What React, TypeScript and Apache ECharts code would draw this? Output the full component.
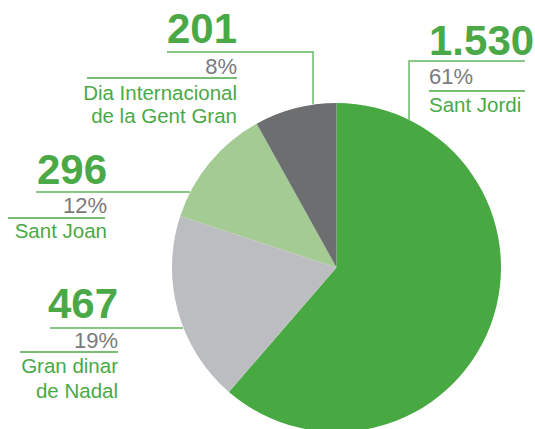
import React, { useEffect, useRef } from "react";
import * as echarts from "echarts";

const names = ["Sant Jordi", "Gran dinar de Nadal", "Sant Joan", "Dia Internacional de la Gent Gran"];
const nameLines = [["Sant Jordi"], ["Gran dinar", "de Nadal"], ["Sant Joan"], ["Dia Internacional", "de la Gent Gran"]];
const values = [1530, 467, 296, 201];
const percents = ["61%", "19%", "12%", "8%"];
const colors = ["#48a942", "#bcbdc0", "#a3cb93", "#6d6e70"];

const GREEN = "#4aa946";
const LEAD = "#62b55d";
const GREY_TXT = "#7b7b7b";
const FONT = "'Liberation Sans', Arial, sans-serif";

const fmt = (v: number) => String(v).replace(/\B(?=(\d{3})+(?!\d))/g, ".");

// label layout: anchor x, alignment, y of number, pct, names (centers), lines
const layout = [
  {
    x: 429, align: "left", numY: 40, pctY: 76, nameY: [104],
    leader: [[525, 61], [409, 61], [409, 120]], under: [[429, 91], [525, 91]],
  },
  {
    x: 118, align: "right", numY: 303, pctY: 340, nameY: [365, 390],
    leader: [[50, 328], [183, 328]], under: [[20, 352], [118, 352]],
  },
  {
    x: 107, align: "right", numY: 169, pctY: 205, nameY: [230],
    leader: [[36, 192], [190, 192]], under: [[8, 218], [105, 218]],
  },
  {
    x: 237, align: "right", numY: 28.5, pctY: 66, nameY: [92.5, 115],
    leader: [[167, 52], [313, 52], [313, 104]], under: [[87, 78], [237, 78]],
  },
];

export default function App() {
  const ref = useRef<HTMLDivElement>(null);
  useEffect(() => {
    if (!ref.current) return;
    const chart = echarts.init(ref.current, undefined, { renderer: "svg" });
    const graphic: any[] = [];
    layout.forEach((l, i) => {
      graphic.push({
        type: "polyline", silent: true,
        shape: { points: l.leader },
        style: { stroke: LEAD, lineWidth: 1.4, fill: "none" },
      });
      graphic.push({
        type: "polyline", silent: true,
        shape: { points: l.under },
        style: { stroke: GREEN, lineWidth: 1.4, fill: "none" },
      });
      graphic.push({
        type: "text", silent: true,
        style: {
          x: l.x, y: l.numY, text: fmt(values[i]), textAlign: l.align, textVerticalAlign: "middle",
          fill: GREEN, font: `bold 42px ${FONT}`,
        },
      });
      graphic.push({
        type: "text", silent: true,
        style: {
          x: l.x, y: l.pctY, text: percents[i], textAlign: l.align, textVerticalAlign: "middle",
          fill: GREY_TXT, font: `22px ${FONT}`,
        },
      });
      nameLines[i].forEach((t, j) => {
        graphic.push({
          type: "text", silent: true,
          style: {
            x: l.x, y: l.nameY[j], text: t, textAlign: l.align, textVerticalAlign: "middle",
            fill: GREEN, font: `20.5px ${FONT}`,
          },
        });
      });
    });
    chart.setOption({
      animation: false,
      series: [
        {
          type: "pie",
          center: [336.5, 267.5],
          radius: 164.5,
          startAngle: 90,
          clockwise: true,
          label: { show: false },
          labelLine: { show: false },
          itemStyle: { borderWidth: 0 },
          emphasis: { disabled: true },
          data: names.map((n, i) => ({ name: n, value: values[i], itemStyle: { color: colors[i] } })),
        },
      ],
      graphic,
    });
    return () => chart.dispose();
  }, []);
  return <div ref={ref} style={{ width: 535, height: 429, position: "absolute", left: 0, top: 0 }} />;
}
